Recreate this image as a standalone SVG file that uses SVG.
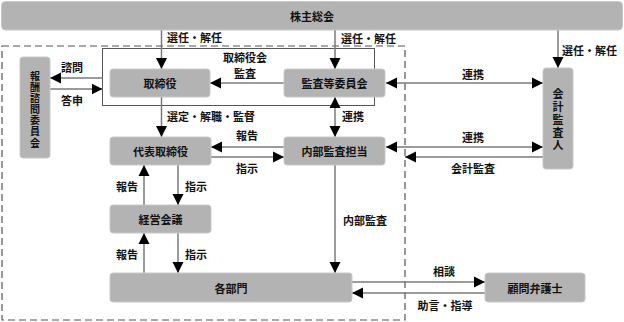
<svg xmlns="http://www.w3.org/2000/svg" width="624" height="322" viewBox="0 0 624 322">
<style>
text{font-family:"Noto Sans CJK JP","Noto Sans CJK SC",sans-serif;font-size:11px;font-weight:bold;fill:#111;dominant-baseline:central}
.c{text-anchor:middle}
.v{writing-mode:vertical-rl;text-anchor:middle}
.box{fill:#b3b3b3;stroke:#c8c8c8;stroke-width:1}
.ln{fill:none;stroke:#7a7a7a;stroke-width:1.5}
.e{marker-end:url(#ah)}
.b{marker-start:url(#ah);marker-end:url(#ah)}
</style>
<defs>
<marker id="ah" viewBox="0 0 10 10" refX="10" refY="5" markerWidth="11" markerHeight="12" markerUnits="userSpaceOnUse" orient="auto-start-reverse">
<path d="M0,0 L10,5 L0,10 z" fill="#000"/>
</marker>
</defs>
<rect width="624" height="322" fill="#fff"/>
<rect x="2" y="46" width="403" height="274" fill="none" stroke="#555" stroke-width="1.2" stroke-dasharray="7 4"/>
<g id="board-frame">
<rect x="102.5" y="48.5" width="272" height="57" fill="none" stroke="#555" stroke-width="1"/>
<text class="c" x="245" y="57">取締役会</text>
</g>
<g id="connectors">
<path class="ln e" d="M161.5,30 V69"/>
<path class="ln e" d="M335,30 V69"/>
<path class="ln e" d="M558,30 V68"/>
<path class="ln e" d="M102.5,78 H50"/>
<path class="ln e" d="M50,89 H102.5"/>
<path class="ln e" d="M284,83 H210"/>
<path class="ln b" d="M386,83 H543"/>
<path class="ln e" d="M161.5,97 V137"/>
<path class="ln b" d="M335,97 V137"/>
<path class="ln e" d="M284,147 H211"/>
<path class="ln e" d="M211,157 H284"/>
<path class="ln b" d="M386,147 H543"/>
<path class="ln e" d="M543,157 H405"/>
<path class="ln e" d="M144,205 V165"/>
<path class="ln e" d="M178,165 V205"/>
<path class="ln e" d="M144,273 V233"/>
<path class="ln e" d="M178,233 V273"/>
<path class="ln e" d="M335,165 V273"/>
<path class="ln e" d="M352,282 H485"/>
<path class="ln e" d="M485,293 H352"/>
<text x="167" y="37">選任・解任</text>
<text x="341" y="38">選任・解任</text>
<text x="562" y="50">選任・解任</text>
<text class="c" x="245" y="73">監査</text>
<text class="c" x="72" y="67">諮問</text>
<text class="c" x="72" y="100">答申</text>
<text class="c" x="473" y="74">連携</text>
<text class="c" x="473" y="137">連携</text>
<text class="c" x="473" y="168">会計監査</text>
<text x="167" y="116">選定・解職・監督</text>
<text class="c" x="353" y="116">連携</text>
<text class="c" x="247" y="135">報告</text>
<text class="c" x="247" y="168">指示</text>
<text class="c" x="127" y="186">報告</text>
<text class="c" x="196" y="186">指示</text>
<text class="c" x="127" y="254">報告</text>
<text class="c" x="196" y="254">指示</text>
<text class="c" x="365" y="220">内部監査</text>
<text class="c" x="444" y="271">相談</text>
<text class="c" x="445" y="305">助言・指導</text>
</g>
<g id="shareholders">
<rect class="box" x="1.5" y="1.5" width="621" height="28.5" rx="4"/>
<text class="c" x="312" y="16">株主総会</text>
</g>
<g id="compensation">
<rect class="box" x="20" y="57" width="30" height="101" rx="3"/>
<text class="v" x="35" y="110" style="font-size:10px;letter-spacing:1.1px">報酬諮問委員会</text>
</g>
<g id="directors">
<rect class="box" x="110" y="69" width="100" height="28" rx="3"/>
<text class="c" x="160" y="83">取締役</text>
</g>
<g id="audit-committee">
<rect class="box" x="284" y="69" width="101" height="28" rx="3"/>
<text class="c" x="334.5" y="83">監査等委員会</text>
</g>
<g id="auditor">
<rect class="box" x="543" y="68" width="30" height="101" rx="3"/>
<text class="v" x="558" y="120.5" style="letter-spacing:1.75px">会計監査人</text>
</g>
<g id="rep-director">
<rect class="box" x="110" y="137" width="101" height="28" rx="3"/>
<text class="c" x="160.5" y="151">代表取締役</text>
</g>
<g id="internal-audit">
<rect class="box" x="284" y="137" width="101" height="28" rx="3"/>
<text class="c" x="334.5" y="151">内部監査担当</text>
</g>
<g id="management-meeting">
<rect class="box" x="110" y="205" width="101" height="28" rx="3"/>
<text class="c" x="160.5" y="219">経営会議</text>
</g>
<g id="departments">
<rect class="box" x="110" y="273" width="242" height="29" rx="3"/>
<text class="c" x="231" y="287.5">各部門</text>
</g>
<g id="lawyer">
<rect class="box" x="485" y="273" width="100" height="29" rx="3"/>
<text class="c" x="535" y="287.5">顧問弁護士</text>
</g>
</svg>
